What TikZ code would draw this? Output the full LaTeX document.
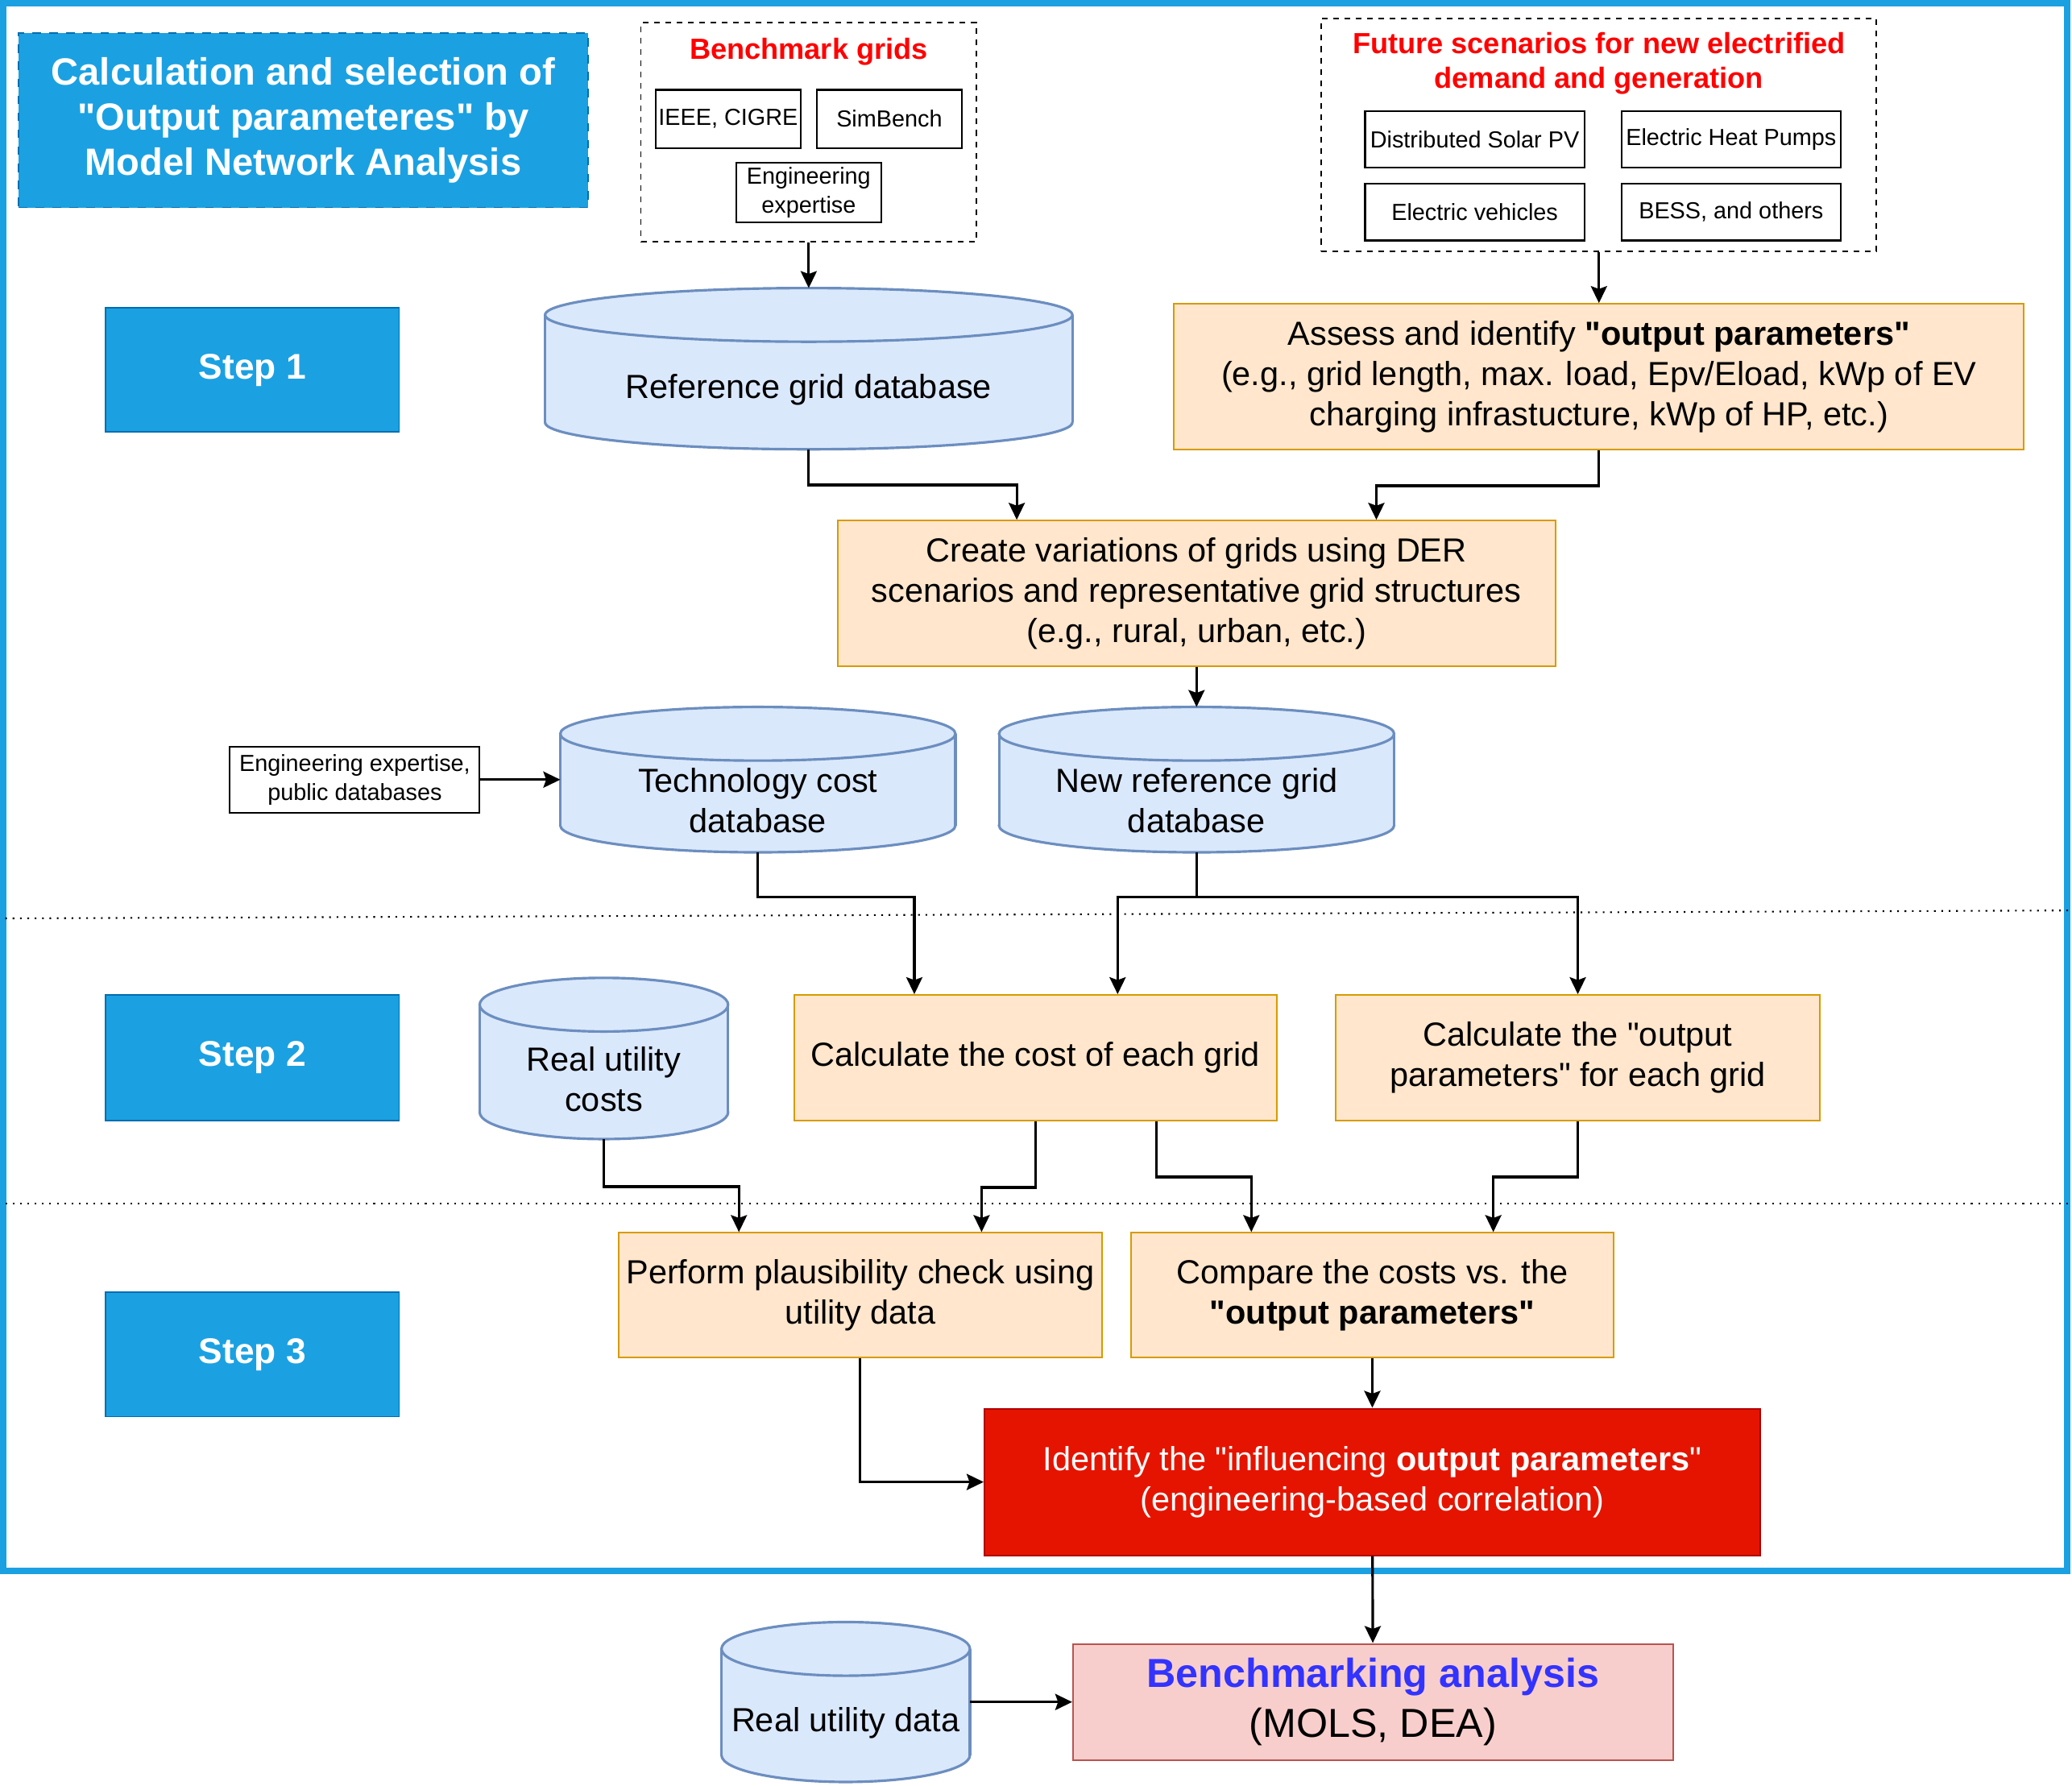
\documentclass[tikz,border=0pt]{standalone}
\usepackage{fontspec}
\defaultfontfeatures{}
\defaultfontfeatures[\rmfamily]{}
\setmainfont{Liberation Sans}
\usepackage{xcolor}
\usepackage{tikz}
\usetikzlibrary{positioning,arrows.meta,calc,backgrounds}
\definecolor{stepblue}{HTML}{1BA1E2}
\definecolor{stepedge}{HTML}{006EAF}
\definecolor{orfill}{HTML}{FFE6CC}
\definecolor{oredge}{HTML}{D79B00}
\definecolor{dbfill}{HTML}{DAE8FC}
\definecolor{dbedge}{HTML}{6C8EBF}
\definecolor{idfill}{HTML}{E51400}
\definecolor{idedge}{HTML}{B20000}
\definecolor{bmfill}{HTML}{F8CECC}
\definecolor{bmedge}{HTML}{B85450}
\definecolor{bmtext}{HTML}{3333FF}
\newcommand{\px}{0.16403mm}
% database cylinder behind a named node
\newcommand{\dbcyl}[1]{%
  \begin{pgfonlayer}{background}
    \path[fill=dbfill,draw=dbedge,line width=0.9pt] let \p1=(#1.north west), \p2=(#1.south east) in
      ({(\x1+\x2)/2},{\y2+3.33mm}) ellipse [x radius={(\x2-\x1)/2},y radius=3.33mm];
    \path[fill=dbfill] let \p1=(#1.north west), \p2=(#1.south east) in
      (\x1,{\y1-3.33mm}) rectangle (\x2,{\y2+3.33mm});
    \path[draw=dbedge,line width=0.9pt] let \p1=(#1.north west), \p2=(#1.south east) in
      (\x1,{\y1-3.33mm}) -- (\x1,{\y2+3.33mm}) (\x2,{\y1-3.33mm}) -- (\x2,{\y2+3.33mm});
    \path[fill=dbfill,draw=dbedge,line width=0.9pt] let \p1=(#1.north west), \p2=(#1.south east) in
      ({(\x1+\x2)/2},{\y1-3.33mm}) ellipse [x radius={(\x2-\x1)/2},y radius=3.33mm];
  \end{pgfonlayer}}

\begin{document}
\begin{tikzpicture}[x=\px,y=-\px,
  sz/.style 2 args={minimum width=#1*\px,minimum height=#2*\px,inner sep=0pt},
  titlebox/.style={fill=stepblue,draw=stepedge,dashed,line width=0.5pt,text=white,align=center,
    font=\fontsize{13.4}{16}\selectfont\bfseries},
  stepbox/.style={fill=stepblue,draw=stepedge,line width=0.5pt,text=white,font=\fontsize{12.6}{15}\selectfont\bfseries},
  proc/.style={fill=orfill,draw=oredge,line width=0.6pt,align=center,font=\fontsize{11.8}{14.2}\selectfont},
  db/.style={outer sep=0pt},
  dbtext/.style={label={[align=center,font=\fontsize{11.8}{14.2}\selectfont,yshift=-2.6mm]center:#1}},
  small/.style={draw,line width=0.6pt,align=center,font=\fontsize{8.2}{10.2}\selectfont},
  grp/.style={draw,line width=0.5pt,dash pattern=on 2pt off 2pt},
  grptitle/.style={text=red,align=center,font=\fontsize{10.3}{12.1}\selectfont\bfseries},
  arr/.style={-{Stealth[length=2.1mm,width=2mm,inset=0.35mm]},line width=0.9pt},
  sep/.style={dotted,line width=0.6pt}
]
  \useasboundingbox (0,0) rectangle (1568,1351);
  \draw[stepblue,line width=0.8mm] (2.4,2.4) rectangle (1564.4,1188.5);
  \draw[sep] (4,695) -- (1565,689);
  \draw[sep] (4,911) -- (1565,911);

  % title and input groups
  \node[titlebox,sz={431}{132}] (title) at (229.5,91) {Calculation and selection of\\"Output parameteres" by\\Model Network Analysis};
  \node[grp,sz={254}{166}] (bench) at (612,100) {};
  \node[grptitle] (benchhead) at (612,39) {Benchmark grids};
  \node[small,sz={110}{44}] (ieee) at (551,90) {IEEE, CIGRE};
  \node[small,sz={110}{44}] (simb) at (673,90) {SimBench};
  \node[small,sz={110}{45}] (engx) at (612,145.5) {Engineering\\expertise};
  \node[grp,sz={420}{176}] (future) at (1210,102) {};
  \node[grptitle] (futurehead) at (1210,48) {Future scenarios for new electrified\\demand and generation};
  \node[small,sz={166}{43}] (pv) at (1116,105.5) {Distributed Solar PV};
  \node[small,sz={166}{43}] (hp) at (1310,105.5) {Electric Heat Pumps};
  \node[small,sz={166}{43}] (ev) at (1116,160.5) {Electric vehicles};
  \node[small,sz={166}{43}] (bess) at (1310,160.5) {BESS, and others};

  % steps
  \node[stepbox,sz={222}{94}] (s1) at (191,280) {Step 1};
  \node[stepbox,sz={222}{95}] (s2) at (191,800.5) {Step 2};
  \node[stepbox,sz={222}{94}] (s3) at (191,1025) {Step 3};

  % step 1
  \node[db,sz={399}{122},dbtext={Reference grid database}] (refdb) at (612,279) {};
  \dbcyl{refdb}
  \node[proc,sz={643}{110}] (assess) at (1210,285) {Assess and identify \textbf{"output parameters"}\\(e.g., grid length, max. load, Epv/Eload, kWp of EV\\charging infrastucture, kWp of HP, etc.)};
  \node[proc,sz={543}{110}] (create) at (905.5,449) {Create variations of grids using DER\\scenarios and representative grid structures\\(e.g., rural, urban, etc.)};
  \node[db,sz={299}{110},dbtext={Technology cost\\database}] (techdb) at (573.5,590) {};
  \dbcyl{techdb}
  \node[db,sz={299}{110},dbtext={New reference grid\\database}] (newdb) at (905.5,590) {};
  \dbcyl{newdb}
  \node[small,sz={189}{50}] (engdb) at (268.5,590) {Engineering expertise,\\public databases};

  % step 2
  \node[db,sz={188}{122},dbtext={Real utility\\costs}] (rucost) at (457,801) {};
  \dbcyl{rucost}
  \node[proc,sz={365}{95}] (calccost) at (783.5,800.5) {Calculate the cost of each grid};
  \node[proc,sz={366}{95}] (calcout) at (1194,800.5) {Calculate the "output\\parameters" for each grid};

  % step 3
  \node[proc,sz={366}{94}] (perform) at (651,980) {Perform plausibility check using\\utility data};
  \node[proc,sz={365}{94}] (compare) at (1038.5,980) {Compare the costs vs. the\\\textbf{"output parameters"}};
  \node[proc,fill=idfill,draw=idedge,text=white,sz={587}{111}] (ident) at (1038.5,1121.5) {Identify the "influencing \textbf{output parameters}"\\(engineering-based correlation)};

  % benchmarking
  \node[draw=bmedge,fill=bmfill,line width=0.6pt,align=center,sz={454}{88},font=\fontsize{14.3}{17.7}\selectfont] (bmark) at (1039,1288) {\textcolor{bmtext}{\textbf{Benchmarking analysis}}\\(MOLS, DEA)};
  \node[db,sz={188}{121},dbtext={Real utility data}] (rudata) at (640,1288) {};
  \dbcyl{rudata}

  % connectors
  \draw[arr] (bench) -- (refdb);
  \draw[arr] (future) -- (assess);
  \draw[arr] (refdb.south) -- ++(0,27) -| ($(create.north west)!.25!(create.north east)$);
  \draw[arr] (assess.south) -- ++(0,27) -| ($(create.north west)!.75!(create.north east)$);
  \draw[arr] (create) -- (newdb);
  \draw[arr] (engdb) -- (techdb);
  \draw[arr] (techdb.south) -- ++(0,34) -| ($(calccost.north west)!.25!(calccost.north east)$);
  \draw[arr] (newdb.south) -- ++(0,34) -| ($(calccost.north west)!.67!(calccost.north east)$);
  \draw[arr] (newdb.south) -- ++(0,34) -| (calcout.north);
  \draw[arr] (rucost.south) -- ++(0,36) -| ($(perform.north west)!.25!(perform.north east)$);
  \draw[arr] (calccost.south) -- ++(0,50) -| ($(perform.north west)!.75!(perform.north east)$);
  \draw[arr] ($(calccost.south west)!.75!(calccost.south east)$) -- ++(0,42) -| ($(compare.north west)!.25!(compare.north east)$);
  \draw[arr] (calcout.south) -- ++(0,42) -| ($(compare.north west)!.75!(compare.north east)$);
  \draw[arr] (compare) -- (ident);
  \draw[arr] (perform.south) |- (ident.west);
  \draw[arr] (ident) -- (bmark);
  \draw[arr] (rudata) -- (bmark);
\end{tikzpicture}
\end{document}
